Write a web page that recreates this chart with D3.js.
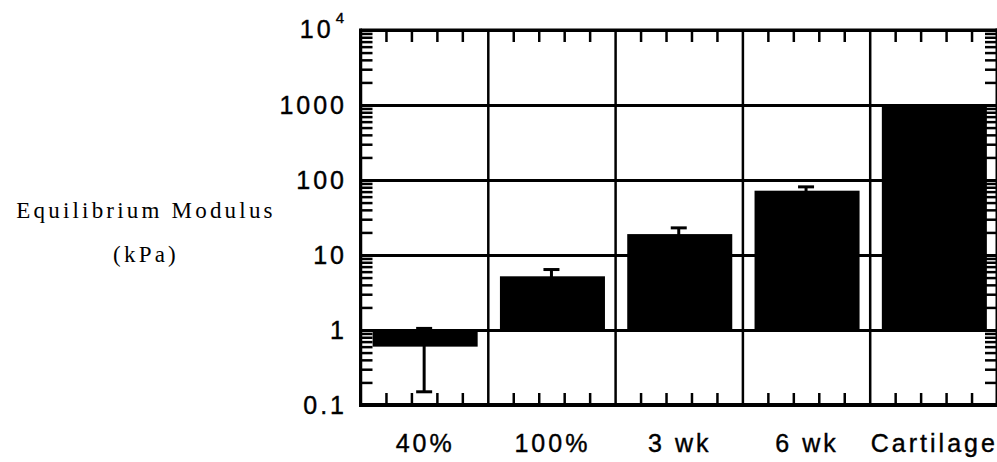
<!DOCTYPE html>
<html>
<head>
<meta charset="utf-8">
<script src="https://cdnjs.cloudflare.com/ajax/libs/d3/7.8.5/d3.min.js"></script>
<style>
  html, body { margin: 0; padding: 0; background: #fff; }
  svg { display: block; }
</style>
</head>
<body>
<svg id="chart" width="997" height="462"></svg>
<script>
// ---- data ----
const categories = ["40%", "100%", "3 wk", "6 wk", "Cartilage"];
const values = [0.6, 5.2, 19, 72, 1000];
const errors = [0.45, 1.2, 4, 9, 0];
const yTickValues = [0.1, 1, 10, 100, 1000, 10000];
const yTickLabels = ["0.1", "1", "10", "100", "1000", "10^4"];
const yLabelLines = ["Equilibrium Modulus", "(kPa)"];

(function () {
// ---- layout ----
const pLeft = 360.5, pRight = 997, pTop = 30, pBottom = 405;

const svg = d3.select("#chart");

const x = d3.scaleBand().domain(categories).range([pLeft, pRight]).paddingInner(0).paddingOuter(0);
const xi = d3.scaleLinear().domain([0, categories.length]).range([pLeft, pRight]);
const y = d3.scaleLog().domain([0.1, 10000]).range([pBottom, pTop]);

// minor ticks on log scale
const minorY = [];
for (let k = -1; k < 4; k++) for (let m = 2; m <= 9; m++) minorY.push(m * Math.pow(10, k));
const minorX = [];
for (let i = 0; i < categories.length; i++) for (let j = 1; j <= 4; j++) minorX.push(i + j / 5);
const boundaries = d3.range(0, categories.length + 1);

// horizontal gridlines at decades
svg.append("g")
  .attr("transform", `translate(${pLeft},0)`)
  .call(d3.axisLeft(y).tickValues(yTickValues).tickSize(-(pRight - pLeft)).tickFormat(""))
  .call(g => g.select(".domain").remove())
  .call(g => g.selectAll("line").attr("stroke", "#000").attr("stroke-width", 3));

// vertical gridlines at category boundaries
svg.append("g")
  .attr("transform", `translate(0,${pBottom})`)
  .call(d3.axisBottom(xi).tickValues(boundaries).tickSize(-(pBottom - pTop)).tickFormat(""))
  .call(g => g.select(".domain").remove())
  .call(g => g.selectAll("line").attr("stroke", "#000").attr("stroke-width", 2.5));

// minor y ticks left and right (inward)
svg.append("g")
  .attr("transform", `translate(${pLeft},0)`)
  .call(d3.axisLeft(y).tickValues(minorY).tickSize(-12).tickFormat(""))
  .call(g => g.select(".domain").remove())
  .call(g => g.selectAll("line").attr("stroke", "#000").attr("stroke-width", 2.5));
svg.append("g")
  .attr("transform", `translate(${pRight},0)`)
  .call(d3.axisRight(y).tickValues(minorY).tickSize(-12).tickFormat(""))
  .call(g => g.select(".domain").remove())
  .call(g => g.selectAll("line").attr("stroke", "#000").attr("stroke-width", 2.5));

// minor x ticks bottom and top (inward)
svg.append("g")
  .attr("transform", `translate(0,${pBottom})`)
  .call(d3.axisBottom(xi).tickValues(minorX).tickSize(-12).tickFormat(""))
  .call(g => g.select(".domain").remove())
  .call(g => g.selectAll("line").attr("stroke", "#000").attr("stroke-width", 2.5));
svg.append("g")
  .attr("transform", `translate(0,${pTop})`)
  .call(d3.axisTop(xi).tickValues(minorX).tickSize(-12).tickFormat(""))
  .call(g => g.select(".domain").remove())
  .call(g => g.selectAll("line").attr("stroke", "#000").attr("stroke-width", 2.5));

// frame lines
svg.append("line").attr("x1", pLeft).attr("x2", pRight).attr("y1", pBottom).attr("y2", pBottom)
  .attr("stroke", "#000").attr("stroke-width", 4);
svg.append("line").attr("x1", pLeft).attr("x2", pRight).attr("y1", pTop).attr("y2", pTop)
  .attr("stroke", "#000").attr("stroke-width", 3);
svg.append("line").attr("x1", pLeft).attr("x2", pLeft).attr("y1", pTop - 1.5).attr("y2", pBottom + 2)
  .attr("stroke", "#000").attr("stroke-width", 3);
svg.append("line").attr("x1", pRight).attr("x2", pRight).attr("y1", pTop - 1.5).attr("y2", pBottom + 2)
  .attr("stroke", "#000").attr("stroke-width", 3);

// bars (baseline at 1)
const bw = x.bandwidth() * 0.825;
const off = (x.bandwidth() - bw) / 2 + 1;
const data = categories.map((c, i) => ({ c, v: values[i], e: errors[i] }));

svg.append("g").selectAll("rect").data(data).join("rect")
  .attr("x", d => x(d.c) + off)
  .attr("width", bw)
  .attr("y", d => Math.min(y(d.v), y(1)))
  .attr("height", d => Math.abs(y(d.v) - y(1)))
  .attr("fill", "#000");

// error bars
const eb = svg.append("g");
data.forEach(d => {
  if (!d.e) return;
  const cx = x(d.c) + x.bandwidth() / 2;
  const hi = d.v + d.e, lo = Math.max(d.v - d.e, 0.101);
  eb.append("line").attr("x1", cx).attr("x2", cx).attr("y1", y(hi)).attr("y2", y(lo))
    .attr("stroke", "#000").attr("stroke-width", 3);
  [hi, lo].forEach(v => {
    eb.append("line").attr("x1", cx - 8).attr("x2", cx + 8).attr("y1", y(v)).attr("y2", y(v))
      .attr("stroke", "#000").attr("stroke-width", 3);
  });
});

// y tick labels
const yl = svg.append("g")
  .attr("font-family", "'Liberation Sans', Arial, Helvetica, sans-serif")
  .attr("font-size", 25)
  .attr("letter-spacing", 3)
  .attr("fill", "#000")
  .attr("stroke", "#000").attr("stroke-width", 0.4);
yTickValues.forEach((v, i) => {
  const lab = yTickLabels[i];
  const t = yl.append("text").attr("text-anchor", "end").attr("x", 347).attr("y", y(v) + 9);
  if (lab.includes("^")) {
    const parts = lab.split("^");
    t.attr("y", y(v) + 8);
    t.append("tspan").text(parts[0]);
    t.append("tspan").attr("dx", 2).attr("dy", -15).attr("font-size", 15).text(parts[1]);
  } else {
    t.text(lab);
  }
});

// x labels
svg.append("g")
  .attr("font-family", "'Liberation Sans', Arial, Helvetica, sans-serif")
  .attr("font-size", 25)
  .attr("letter-spacing", 3)
  .attr("fill", "#000")
  .attr("stroke", "#000").attr("stroke-width", 0.4)
  .selectAll("text").data(categories).join("text")
  .attr("text-anchor", "middle")
  .attr("x", d => x(d) + x.bandwidth() / 2 + 1)
  .attr("y", 452)
  .text(d => d);

// y axis title
svg.append("g")
  .attr("font-family", "'Liberation Serif', 'Times New Roman', serif")
  .attr("font-size", 23)
  .attr("letter-spacing", 3.2)
  .attr("fill", "#000")
  .selectAll("text").data(yLabelLines).join("text")
  .attr("text-anchor", "middle")
  .attr("x", 146)
  .attr("y", (d, i) => 218 + i * 44)
  .text(d => d);
})();
</script>
</body>
</html>
